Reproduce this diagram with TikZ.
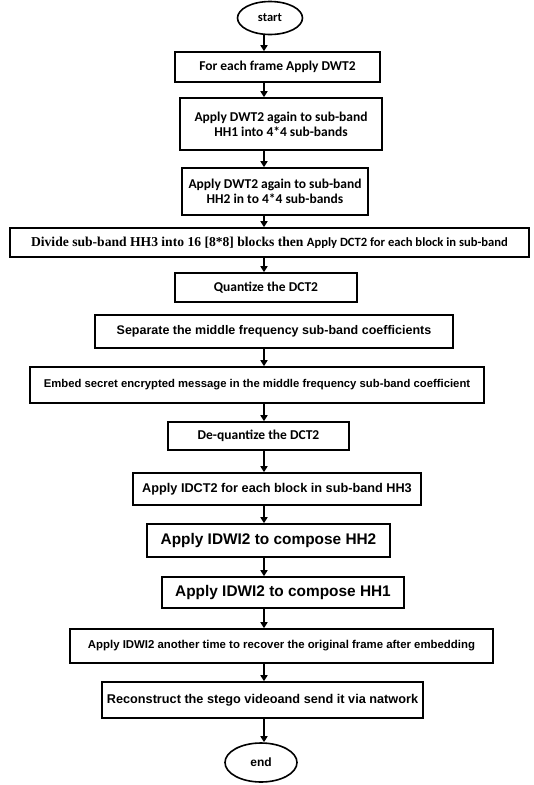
\documentclass[tikz,border=0pt]{standalone}
\usepackage{fontspec}
\setmainfont{Liberation Sans}
\newfontfamily\calfont{Carlito}
\newfontfamily\tmsfont{Liberation Serif}
\usetikzlibrary{arrows.meta,shapes.geometric}

\tikzset{
    stepbox/.style={draw,line width=1.6pt,inner sep=0pt,align=center,font=\bfseries},
    calbox/.style={stepbox,font=\calfont\bfseries\fontsize{13.5}{15}\selectfont},
    arbox/.style={stepbox,font=\bfseries\fontsize{12.5}{14}\selectfont},
    term/.style={draw,ellipse,line width=1.6pt,inner sep=0pt},
    flow/.style={line width=1.8pt,-{Triangle[length=6pt,width=7pt]}}
}

\begin{document}
\begin{tikzpicture}[x=1pt,y=-1pt]
    \useasboundingbox(0,0)rectangle(534,785);
    \coordinate(axis)at(264,0);

    \node[term,minimum width=65pt,minimum height=33pt,font=\calfont\bfseries\fontsize{12.5}{14}\selectfont](start)at(270,18){start};
    \node[calbox,minimum width=205pt,minimum height=30pt](s1)at(277.5,67){For each frame Apply DWT2};
    \node[calbox,minimum width=202pt,minimum height=52pt](s2)at(281,124){Apply DWT2 again to sub-band\\HH1 into 4*4 sub-bands};
    \node[calbox,minimum width=186pt,minimum height=47pt](s3)at(275,191.5){Apply DWT2 again to sub-band\\HH2 in to 4*4 sub-bands};
    \node[stepbox,minimum width=519pt,minimum height=29pt](s4)at(269.5,242.5){{\tmsfont\bfseries\fontsize{13.6}{15}\selectfont Divide sub-band HH3 into 16 [8*8] blocks then }{\calfont\bfseries\fontsize{12.6}{14}\selectfont Apply DCT2 for each block in sub-band}};
    \node[calbox,minimum width=182pt,minimum height=29pt](s5)at(266,287.5){Quantize the DCT2};
    \node[arbox,minimum width=358pt,minimum height=33pt](s6)at(274,331.5){Separate the middle frequency sub-band coefficients};
    \node[arbox,minimum width=454pt,minimum height=36pt,font=\bfseries\fontsize{11.3}{13}\selectfont](s7)at(257,385){Embed secret encrypted message in the middle frequency sub-band coefficient};
    \node[calbox,minimum width=181pt,minimum height=28pt](s8)at(258.5,436){De-quantize the DCT2};
    \node[arbox,minimum width=288pt,minimum height=32pt,font=\bfseries\fontsize{12.7}{14}\selectfont](s9)at(277,489){Apply IDCT2 for each block in sub-band HH3};
    \node[arbox,minimum width=243pt,minimum height=33pt,font=\bfseries\fontsize{15.4}{17}\selectfont](s10)at(268.5,540.5){Apply IDWI2 to compose HH2};
    \node[arbox,minimum width=242pt,minimum height=31pt,font=\bfseries\fontsize{15.4}{17}\selectfont](s11)at(283,592.5){Apply IDWI2 to compose HH1};
    \node[arbox,minimum width=423pt,minimum height=34pt,font=\bfseries\fontsize{11.4}{13}\selectfont](s12)at(281.5,646){Apply IDWI2 another time to recover the original frame after embedding};
    \node[arbox,minimum width=321pt,minimum height=36pt,font=\bfseries\fontsize{12.7}{14}\selectfont](s13)at(262.5,700){Reconstruct the stego videoand send it via natwork};
    \node[term,minimum width=72pt,minimum height=39pt,font=\bfseries\fontsize{12}{14}\selectfont](stop)at(261,762.5){end};

    %% arrows down the middle column
    \foreach \a/\b in {start/s1,s1/s2,s2/s3,s3/s4,s4/s5,s6/s7,s7/s8,s8/s9,s9/s10,s10/s11,s11/s12,s12/s13,s13/stop}
        \draw[flow](\a.south -| axis)--(\b.north -| axis);
\end{tikzpicture}
\end{document}
